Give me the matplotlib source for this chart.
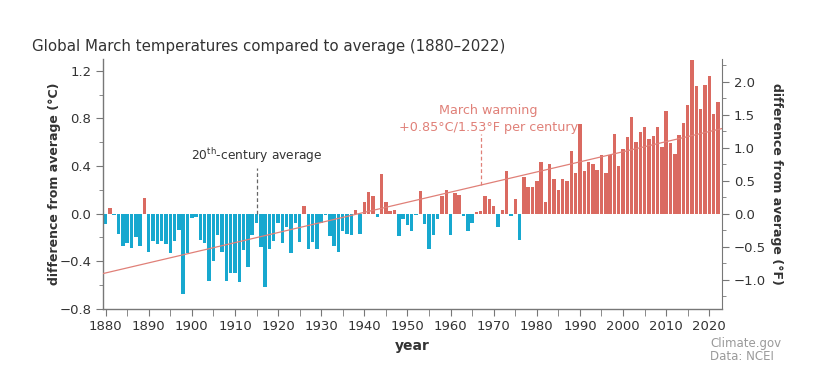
import numpy as np
import matplotlib
matplotlib.use("Agg")
import matplotlib.pyplot as plt
from matplotlib.ticker import MultipleLocator

years = list(range(1880, 2023))
anomaly_c = [
    # 1880-1889
    -0.09, 0.05, -0.01, -0.17, -0.27, -0.25, -0.29, -0.20, -0.27, 0.13,
    # 1890-1899
    -0.32, -0.23, -0.26, -0.23, -0.26, -0.33, -0.23, -0.14, -0.68, -0.33,
    # 1900-1909
    -0.04, -0.03, -0.22, -0.25, -0.57, -0.40, -0.18, -0.32, -0.57, -0.50,
    # 1910-1919
    -0.50, -0.58, -0.31, -0.45, -0.18, -0.08, -0.28, -0.62, -0.30, -0.23,
    # 1920-1929
    -0.08, -0.25, -0.11, -0.33, -0.08, -0.24, 0.06, -0.30, -0.24, -0.30,
    # 1930-1939
    -0.08, -0.01, -0.19, -0.27, -0.32, -0.15, -0.17, -0.18, 0.03, -0.17,
    # 1940-1949
    0.10, 0.18, 0.15, -0.03, 0.33, 0.10, 0.02, 0.03, -0.19, -0.05,
    # 1950-1959
    -0.10, -0.15, -0.01, 0.19, -0.09, -0.30, -0.18, -0.05, 0.15, 0.20,
    # 1960-1969
    -0.18, 0.17, 0.16, -0.02, -0.15, -0.08, 0.01, 0.02, 0.15, 0.12,
    # 1970-1979
    0.06, -0.11, 0.03, 0.36, -0.02, 0.12, -0.22, 0.31, 0.22, 0.22,
    # 1980-1989
    0.27, 0.43, 0.10, 0.42, 0.29, 0.20, 0.29, 0.27, 0.53, 0.34,
    # 1990-1999
    0.75, 0.36, 0.43, 0.42, 0.37, 0.49, 0.34, 0.49, 0.67, 0.40,
    # 2000-2009
    0.54, 0.64, 0.81, 0.60, 0.69, 0.73, 0.63, 0.65, 0.73, 0.56,
    # 2010-2019
    0.86, 0.59, 0.50, 0.66, 0.76, 0.91, 1.29, 1.07, 0.88, 1.08,
    # 2020-2022
    1.16, 0.84, 0.94,
]

trend_years = [1879.4, 2022.95]
trend_start = -0.50    # value at 1880
trend_rate = 0.0085    # deg C per year (0.85 per century)

c_ticks = [-0.8, -0.4, 0.0, 0.4, 0.8, 1.2]
f_ticks = [-1.0, -0.5, 0.0, 0.5, 1.0, 1.5, 2.0]
x_ticks = list(range(1880, 2021, 10))

BLUE = "#17a8cf"
RED = "#da6a61"
TREND = "#e08078"
TXT = "#333333"

fig = plt.figure(figsize=(8.28, 3.81), dpi=100)
ax = fig.add_axes([0.1244, 0.190, 0.7476, 0.655])

vals = np.array(anomaly_c)
colors = [RED if v > 0 else BLUE for v in vals]
ax.bar(years, vals, width=0.8, color=colors, edgecolor="none", zorder=2)

ty = [trend_start + trend_rate * (y - 1880) for y in trend_years]
ax.plot(trend_years, ty, color=TREND, lw=0.9, zorder=3)

ax.set_xlim(1879.4, 2022.95)
ax.set_ylim(-0.8, 1.3)

ax.set_yticks(c_ticks)
ax.set_yticklabels([f"{t:.1f}".replace("-", "\u2212") for t in c_ticks])
ax.yaxis.set_minor_locator(MultipleLocator(0.2))
ax.set_xticks(x_ticks)
ax.xaxis.set_minor_locator(MultipleLocator(5))

for s in ["top", "right"]:
    ax.spines[s].set_visible(False)
for s in ["left", "bottom"]:
    ax.spines[s].set_color("#777777")
    ax.spines[s].set_linewidth(1.0)

ax.tick_params(axis="both", which="both", color="#777777", labelcolor=TXT, labelsize=9.5)
ax.tick_params(axis="y", which="major", length=5)
ax.tick_params(axis="y", which="minor", length=3)
ax.tick_params(axis="x", which="major", length=5)
ax.tick_params(axis="x", which="minor", length=5)

ax.set_xlabel("year", fontsize=10, fontweight="bold", color=TXT, labelpad=4)
ax.set_ylabel("difference from average (\u00b0C)", fontsize=9, fontweight="bold", color=TXT)
ax.yaxis.set_label_coords(-0.068, 0.5)

# Fahrenheit axis
ax2 = ax.twinx()
ax2.set_ylim(-0.8 * 1.8, 1.3 * 1.8)
ax2.set_yticks(f_ticks)
ax2.set_yticklabels([f"{t:.1f}".replace("-", "\u2212") for t in f_ticks])
ax2.yaxis.set_minor_locator(MultipleLocator(0.25))
for s in ["top", "left", "bottom"]:
    ax2.spines[s].set_visible(False)
ax2.spines["right"].set_color("#777777")
ax2.tick_params(axis="y", which="both", color="#777777", labelcolor=TXT, labelsize=9.5)
ax2.tick_params(axis="y", which="major", length=5)
ax2.tick_params(axis="y", which="minor", length=3)
ax2.set_ylabel("difference from average (\u00b0F)", fontsize=9, fontweight="bold", color=TXT,
               rotation=270, labelpad=12)

# annotations
ax.plot([1915, 1915], [0.0, 0.38], ls=(0, (3, 2)), color="#666666", lw=0.9, zorder=4)
ax.text(1915, 0.41, "20$^{\\mathrm{th}}$-century average", ha="center", va="bottom",
        fontsize=8.8, color=TXT)

ax.plot([1967, 1967], [0.24, 0.67], ls=(0, (3, 2)), color=TREND, lw=0.9, zorder=4)
ax.text(1968.8, 0.865, "March warming", ha="center", va="center", fontsize=9.2, color=TREND)
ax.text(1968.8, 0.725, "+0.85\u00b0C/1.53\u00b0F per century", ha="center", va="center",
        fontsize=9.2, color=TREND)

fig.text(32 / 828, 1 - 47 / 381, "Global March temperatures compared to average (1880\u20132022)",
         ha="left", va="center", fontsize=10.8, color=TXT)

fig.text(710 / 828, 1 - 344 / 381, "Climate.gov", ha="left", va="center", fontsize=8.5, color="#9a9a9a")
fig.text(710 / 828, 1 - 357 / 381, "Data: NCEI", ha="left", va="center", fontsize=8.5, color="#9a9a9a")

fig.savefig("out.png", dpi=100)
